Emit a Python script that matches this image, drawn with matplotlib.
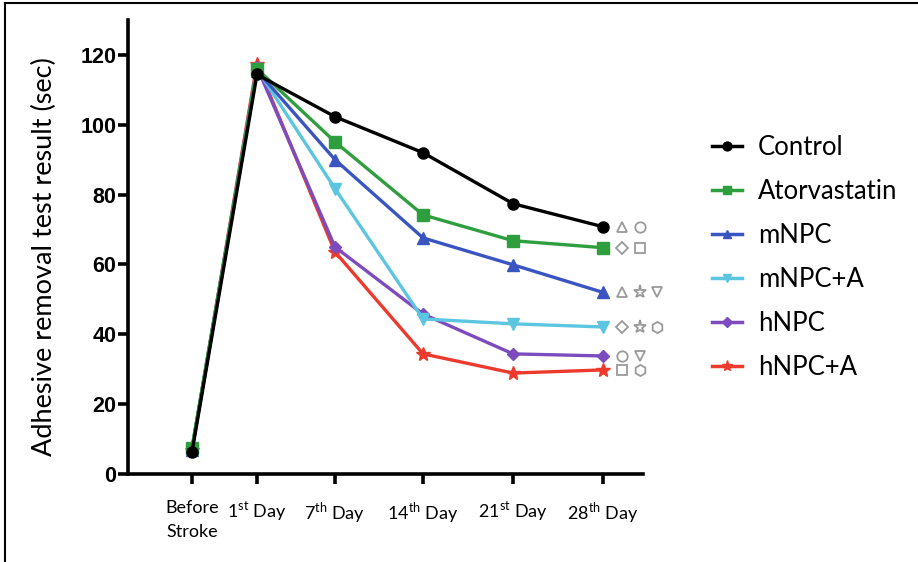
import matplotlib
matplotlib.use("Agg")
import matplotlib.pyplot as plt
from matplotlib.transforms import offset_copy
from matplotlib.lines import Line2D

plt.rcParams['font.family'] = ['Lato', 'DejaVu Sans']
plt.rcParams['mathtext.fontset'] = 'custom'
plt.rcParams['mathtext.rm'] = 'Lato'

# ---- data ----
tick_labels = ["Before\nStroke", r"1$^{\mathrm{st}}$ Day", r"7$^{\mathrm{th}}$ Day",
               r"14$^{\mathrm{th}}$ Day", r"21$^{\mathrm{st}}$ Day", r"28$^{\mathrm{th}}$ Day"]
x_vals = [0, 0.722, 1.589, 2.567, 3.567, 4.567]

series_names = ["Control", "Atorvastatin", "mNPC", "mNPC+A", "hNPC", "hNPC+A"]
control      = [6.3, 114.4, 102.3, 92.0, 77.4, 70.8]
atorvastatin = [7.5, 116.0, 95.1, 74.2, 66.8, 64.8]
mnpc         = [7.0, 115.5, 90.0, 67.6, 59.9, 52.0]
mnpc_a       = [7.0, 116.0, 81.7, 44.4, 43.0, 42.1]
hnpc         = [7.0, 116.5, 65.0, 45.8, 34.4, 33.8]
hnpc_a       = [7.0, 117.5, 63.6, 34.4, 28.9, 29.8]
series_values = [control, atorvastatin, mnpc, mnpc_a, hnpc, hnpc_a]

colors  = ["#000000", "#2e9e3e", "#3a55c2", "#5cc6e0", "#7c4cbf", "#ec3a2c"]
markers = ["o", "s", "^", "v", "D", "*"]
msizes  = [8, 8, 8, 8, 6.5, 10]

sig_symbols = [["^", "o"], ["D", "s"], ["^", "*", "v"], ["D", "*", "h"], ["o", "v"], ["s", "h"]]
sig_sizes = {"^": 7.5, "o": 7.5, "D": 6, "s": 7.5, "*": 9.5, "v": 7.5, "h": 8}

# ---- figure ----
fig = plt.figure(figsize=(9.18, 5.62), dpi=100)
ax = fig.add_axes([128/918, 1-474/562, (643-128)/918, (474-20)/562])

for i in reversed(range(len(series_names))):
    ax.plot(x_vals, series_values[i], color=colors[i], marker=markers[i],
            markersize=msizes[i], linewidth=2.4, label=series_names[i],
            clip_on=False, zorder=3 + (len(series_names) - i))

# significance symbols
for i, syms in enumerate(sig_symbols):
    for j, m in enumerate(syms):
        tr = offset_copy(ax.transData, fig=fig, x=14 + 12.5 * j, y=0, units='points')
        ax.plot([x_vals[-1]], [series_values[i][-1]], marker=m, markersize=sig_sizes[m],
                markerfacecolor='none', markeredgecolor='#9a9a9a', markeredgewidth=1.3,
                linestyle='none', transform=tr, clip_on=False)

ax.set_xlim(-0.711, 5.011)
ax.set_ylim(0, 130)
ax.set_yticks([0, 20, 40, 60, 80, 100, 120])
ax.set_xticks(x_vals)
ax.set_xticklabels(tick_labels, fontsize=13, linespacing=1.65)
for lab in ax.get_yticklabels():
    lab.set_fontfamily('Liberation Sans')
    lab.set_fontweight('bold')
    lab.set_fontsize(15.5)

for s in ['top', 'right']:
    ax.spines[s].set_visible(False)
for s in ['left', 'bottom']:
    ax.spines[s].set_linewidth(2.6)
ax.tick_params(axis='both', width=2.6, length=7.5, direction='out')
ax.tick_params(axis='y', pad=1)
ax.tick_params(axis='x', pad=11)

ax.set_ylabel("Adhesive removal test result (sec)", fontsize=19.5)
ax.yaxis.set_label_coords(-0.138, 0.478)

handles = [Line2D([], [], color=colors[i], marker=markers[i], markersize=msizes[i] * 0.8,
                  linewidth=2.5) for i in range(len(series_names))]
fig.legend(handles, series_names, loc='upper left', bbox_to_anchor=(689/918, 1-112/562),
           frameon=False, fontsize=18.5, handlelength=1.17, handletextpad=0.62,
           labelspacing=0.74)

# figure border (top and left)
fig.add_artist(Line2D([5/918, 1], [1-3/562, 1-3/562], color='black', linewidth=1.5,
                      transform=fig.transFigure))
fig.add_artist(Line2D([5/918, 5/918], [0, 1-3/562], color='black', linewidth=1.5,
                      transform=fig.transFigure))

fig.savefig("out.png", dpi=100)
